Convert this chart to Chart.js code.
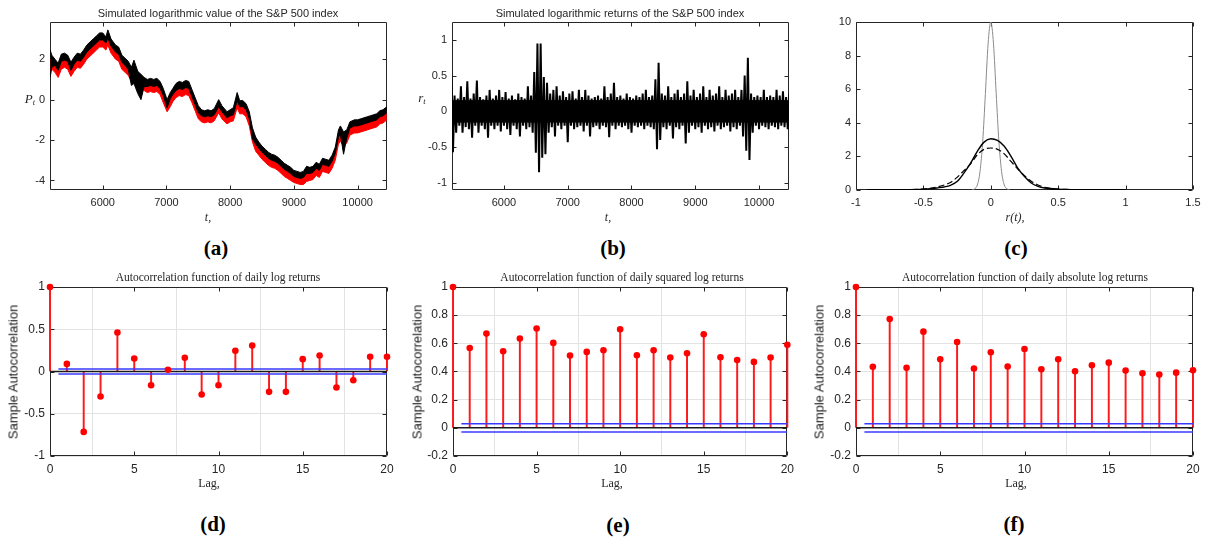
<!DOCTYPE html>
<html>
<head>
<meta charset="utf-8">
<title>S&amp;P 500 simulation</title>
<script src="https://cdn.jsdelivr.net/npm/chart.js@4.4.1/dist/chart.umd.min.js"></script>
<style>
  body { margin: 0; background: #fff; }
  #fig { position: relative; width: 1207px; height: 539px; overflow: hidden; background: #fff; }
  #fig canvas { position: absolute; }
  .t { position: absolute; transform: translate(-50%, -50%); white-space: nowrap; line-height: 1; color: #262626; }
  .sans { font-family: "Liberation Sans", Arial, sans-serif; font-size: 11px; }
  .serif { font-family: "Liberation Serif", "Times New Roman", serif; font-size: 11.5px; }
  .it { font-family: "Liberation Serif", "Times New Roman", serif; font-style: italic; font-size: 12px; }
  .lag { font-family: "Liberation Serif", "Times New Roman", serif; font-size: 12px; }
  .rot { font-family: "Liberation Sans", Arial, sans-serif; font-size: 13px; color: #1a1a1a; transform: translate(-50%, -50%) rotate(-90deg); }
  .tag { font-family: "Liberation Serif", "Times New Roman", serif; font-weight: bold; font-size: 21px; color: #000; }
  sub { font-size: 0.65em; vertical-align: -0.3em; }
</style>
</head>
<body>
<div id="fig">
  <canvas id="chartA" width="400" height="232" style="left:0;top:0"></canvas>
  <canvas id="chartB" width="400" height="232" style="left:400px;top:0"></canvas>
  <canvas id="chartC" width="407" height="232" style="left:800px;top:0"></canvas>
  <canvas id="chartD" width="400" height="238" style="left:0;top:262px"></canvas>
  <canvas id="chartE" width="400" height="238" style="left:400px;top:262px"></canvas>
  <canvas id="chartF" width="407" height="238" style="left:800px;top:262px"></canvas>

  <div class="t sans" style="left:218px;top:13px">Simulated logarithmic value of the S&amp;P 500 index</div>
  <div class="t sans" style="left:620px;top:13px">Simulated logarithmic returns of the S&amp;P 500 index</div>
  <div class="t it" style="left:30px;top:99px;font-size:13px">P<sub>t</sub></div>
  <div class="t it" style="left:422px;top:98px;font-size:13px">r<sub>t</sub></div>
  <div class="t it" style="left:208px;top:217px">t,</div>
  <div class="t it" style="left:608px;top:217px">t,</div>
  <div class="t it" style="left:1015px;top:217px">r(t),</div>
  <div class="t tag" style="left:216px;top:248px">(a)</div>
  <div class="t tag" style="left:613px;top:248px">(b)</div>
  <div class="t tag" style="left:1016px;top:248px">(c)</div>

  <div class="t serif" style="left:218px;top:278px">Autocorrelation function of daily log returns</div>
  <div class="t serif" style="left:622px;top:278px">Autocorrelation function of daily squared log returns</div>
  <div class="t serif" style="left:1025px;top:278px">Autocorrelation function of daily absolute log returns</div>
  <div class="t rot" style="left:13px;top:372px">Sample Autocorrelation</div>
  <div class="t rot" style="left:417px;top:372px">Sample Autocorrelation</div>
  <div class="t rot" style="left:819px;top:372px">Sample Autocorrelation</div>
  <div class="t lag" style="left:209px;top:483px">Lag,</div>
  <div class="t lag" style="left:612px;top:483px">Lag,</div>
  <div class="t lag" style="left:1016px;top:483px">Lag,</div>
  <div class="t tag" style="left:213px;top:524px">(d)</div>
  <div class="t tag" style="left:618px;top:525px">(e)</div>
  <div class="t tag" style="left:1014px;top:524px">(f)</div>
</div>

<script>
// --- (a) simulated log price: black band and red band (upper / lower envelopes)
const priceT = [
  5175, 5200, 5250, 5300, 5350, 5400, 5450, 5500, 5550, 5600,
  5650, 5700, 5750, 5800, 5850, 5900, 5950, 6000, 6050, 6080,
  6130, 6200, 6250, 6300, 6350, 6400, 6450, 6490, 6550, 6600,
  6650, 6700, 6750, 6800, 6850, 6900, 6950, 7010, 7060, 7100,
  7150, 7200, 7250, 7300, 7350, 7400, 7450, 7500, 7550, 7600,
  7650, 7700, 7750, 7820, 7870, 7950, 8000, 8050, 8110, 8150,
  8200, 8250, 8300, 8350, 8400, 8450, 8500, 8550, 8600, 8650,
  8700, 8750, 8800, 8850, 8900, 8950, 9000, 9050, 9100, 9150,
  9200, 9250, 9300, 9350, 9400, 9450, 9500, 9550, 9600, 9650,
  9700, 9730, 9780, 9830, 9880, 9950, 10000, 10050, 10100, 10150,
  10200, 10250, 10300, 10350, 10400, 10460
];
const blackHi = [
  2.45, 2.2, 2.0, 1.8, 2.25, 2.3, 2.2, 1.85, 2.1, 2.3,
  2.25, 2.45, 2.7, 2.85, 3.0, 3.15, 3.3, 3.3, 3.1, 3.45,
  3.0, 2.7, 2.6, 2.2, 2.05, 1.9, 1.6, 1.95, 1.4, 1.25,
  1.1, 1.0, 1.05, 1.0, 1.05, 0.9, 0.55, 0.0, 0.35, 0.55,
  0.8, 0.9, 0.85, 0.95, 0.9, 0.5, 0.1, -0.3, -0.5, -0.55,
  -0.5, -0.55, -0.45, 0.0, -0.3, -0.6, -0.5, -0.4, 0.35, -0.05,
  -0.05, -0.2, -0.6, -1.4, -1.85, -2.1, -2.3, -2.45, -2.6, -2.7,
  -2.75, -2.85, -3.0, -3.15, -3.25, -3.35, -3.5, -3.55, -3.6, -3.55,
  -3.3, -3.35, -3.3, -3.1, -3.2, -2.9, -2.95, -3.0, -2.75, -2.35,
  -1.5, -1.3, -1.6, -1.5, -1.1, -1.0, -1.0, -0.95, -0.9, -0.85,
  -0.8, -0.75, -0.7, -0.55, -0.5, -0.35
];
const blackLo = [
  1.1, 1.6, 1.7, 1.45, 1.9, 1.95, 1.9, 1.45, 1.75, 1.95,
  1.9, 2.1, 2.35, 2.5, 2.65, 2.8, 2.95, 2.95, 2.8, 3.05,
  2.65, 2.35, 2.25, 1.85, 1.7, 1.5, 0.7, 0.8, 0.3, 0.0,
  0.65, 0.65, 0.7, 0.65, 0.7, 0.55, 0.2, -0.4, 0.05, 0.25,
  0.45, 0.55, 0.5, 0.6, 0.55, 0.15, -0.25, -0.65, -0.8, -0.85,
  -0.8, -0.85, -0.75, -0.35, -0.6, -0.9, -0.8, -0.75, -0.05, -0.35,
  -0.35, -0.5, -0.95, -1.95, -2.2, -2.4, -2.6, -2.75, -2.9, -3.0,
  -3.05, -3.15, -3.3, -3.45, -3.55, -3.65, -3.8, -3.85, -3.9, -3.85,
  -3.65, -3.65, -3.6, -3.4, -3.5, -3.2, -3.25, -3.3, -3.05, -2.65,
  -1.85, -1.7, -2.7, -1.9, -1.4, -1.3, -1.3, -1.25, -1.2, -1.15,
  -1.1, -1.05, -1.0, -0.85, -0.8, -0.65
];
const redHi = [
  2.0, 1.95, 1.8, 1.55, 2.0, 2.05, 1.95, 1.6, 1.85, 2.0,
  2.0, 2.2, 2.45, 2.6, 2.75, 2.9, 3.0, 3.05, 2.85, 3.15,
  2.75, 2.45, 2.35, 1.95, 1.8, 1.65, 1.35, 1.4, 1.15, 1.0,
  0.9, 0.8, 0.8, 0.75, 0.8, 0.65, 0.3, -0.2, 0.1, 0.35,
  0.55, 0.65, 0.6, 0.7, 0.65, 0.3, -0.1, -0.5, -0.7, -0.75,
  -0.7, -0.75, -0.65, -0.25, -0.5, -0.8, -0.7, -0.6, 0.05, -0.25,
  -0.25, -0.45, -0.85, -1.7, -2.1, -2.35, -2.55, -2.7, -2.85, -2.95,
  -3.0, -3.1, -3.25, -3.4, -3.5, -3.6, -3.75, -3.8, -3.85, -3.8,
  -3.6, -3.6, -3.55, -3.35, -3.45, -3.15, -3.2, -3.25, -3.0, -2.6,
  -1.75, -1.55, -1.85, -1.75, -1.35, -1.25, -1.25, -1.2, -1.15, -1.1,
  -1.05, -1.0, -0.95, -0.8, -0.75, -0.6
];
const redLo = [
  1.45, 1.5, 1.35, 1.1, 1.5, 1.6, 1.5, 1.15, 1.4, 1.6,
  1.55, 1.75, 2.0, 2.15, 2.3, 2.45, 2.6, 2.6, 2.45, 2.7,
  2.3, 2.0, 1.9, 1.5, 1.35, 1.2, 0.9, 0.95, 0.7, 0.6,
  0.45, 0.35, 0.4, 0.35, 0.4, 0.25, -0.15, -0.6, -0.35, -0.1,
  0.1, 0.2, 0.15, 0.25, 0.2, -0.15, -0.55, -0.95, -1.1, -1.15,
  -1.1, -1.15, -1.05, -0.65, -0.95, -1.2, -1.1, -1.05, -0.4, -0.7,
  -0.7, -0.85, -1.3, -2.1, -2.55, -2.75, -2.95, -3.1, -3.25, -3.35,
  -3.4, -3.5, -3.65, -3.8, -3.9, -4.0, -4.1, -4.15, -4.2, -4.2,
  -4.05, -4.0, -3.95, -3.75, -3.85, -3.55, -3.6, -3.65, -3.4, -3.0,
  -2.2, -2.05, -2.3, -2.15, -1.75, -1.65, -1.65, -1.6, -1.55, -1.5,
  -1.45, -1.4, -1.35, -1.2, -1.15, -1.0
];

// --- (b) simulated log returns: per-sample high / low of the series
const retT = [
  5175, 5225, 5275, 5325, 5375, 5425, 5475, 5525, 5575, 5625,
  5675, 5725, 5775, 5825, 5875, 5925, 5975, 6025, 6075, 6125,
  6175, 6225, 6275, 6325, 6375, 6425, 6475, 6525, 6575, 6625,
  6675, 6725, 6775, 6825, 6875, 6925, 6975, 7025, 7075, 7125,
  7175, 7225, 7275, 7325, 7375, 7425, 7475, 7525, 7575, 7625,
  7675, 7725, 7775, 7825, 7875, 7925, 7975, 8025, 8075, 8125,
  8175, 8225, 8275, 8325, 8375, 8425, 8475, 8525, 8575, 8625,
  8675, 8725, 8775, 8825, 8875, 8925, 8975, 9025, 9075, 9125,
  9175, 9225, 9275, 9325, 9375, 9425, 9475, 9525, 9575, 9625,
  9675, 9725, 9775, 9825, 9875, 9925, 9975, 10025, 10075, 10125,
  10175, 10225, 10275, 10325, 10375, 10425, 10475
];
const retHi = [
  0.50, 0.22, 0.18, 0.35, 0.20, 0.42, 0.18, 0.25, 0.43, 0.20,
  0.17, 0.22, 0.30, 0.18, 0.22, 0.30, 0.20, 0.27, 0.18, 0.22,
  0.17, 0.25, 0.20, 0.18, 0.35, 0.22, 0.55, 0.95, 0.95, 0.48,
  0.40, 0.25, 0.30, 0.35, 0.22, 0.28, 0.20, 0.25, 0.28, 0.18,
  0.30, 0.20, 0.30, 0.22, 0.18, 0.20, 0.22, 0.18, 0.35, 0.20,
  0.25, 0.40, 0.20, 0.22, 0.18, 0.25, 0.20, 0.18, 0.22, 0.20,
  0.25, 0.30, 0.20, 0.22, 0.45, 0.68, 0.25, 0.22, 0.35, 0.20,
  0.25, 0.30, 0.20, 0.25, 0.42, 0.22, 0.30, 0.20, 0.25, 0.35,
  0.20, 0.30, 0.22, 0.25, 0.35, 0.20, 0.30, 0.22, 0.25, 0.30,
  0.20, 0.30, 0.50, 0.75, 0.25, 0.20, 0.22, 0.20, 0.30, 0.20,
  0.22, 0.20, 0.30, 0.22, 0.28, 0.20, 0.25
];
const retLo = [
  -0.57, -0.30, -0.20, -0.30, -0.22, -0.25, -0.37, -0.20, -0.30, -0.20,
  -0.25, -0.37, -0.20, -0.25, -0.20, -0.28, -0.20, -0.25, -0.33, -0.20,
  -0.25, -0.35, -0.20, -0.25, -0.22, -0.30, -0.58, -0.85, -0.65, -0.60,
  -0.30, -0.22, -0.35, -0.20, -0.25, -0.20, -0.43, -0.20, -0.25, -0.22,
  -0.20, -0.28, -0.20, -0.35, -0.22, -0.20, -0.25, -0.20, -0.22, -0.36,
  -0.20, -0.25, -0.20, -0.22, -0.20, -0.25, -0.30, -0.20, -0.22, -0.20,
  -0.25, -0.20, -0.22, -0.25, -0.53, -0.40, -0.22, -0.25, -0.20, -0.38,
  -0.22, -0.25, -0.20, -0.45, -0.30, -0.20, -0.25, -0.22, -0.30, -0.20,
  -0.25, -0.22, -0.28, -0.20, -0.25, -0.22, -0.20, -0.28, -0.22, -0.25,
  -0.20, -0.35, -0.55, -0.68, -0.30, -0.20, -0.25, -0.20, -0.22, -0.25,
  -0.20, -0.22, -0.25, -0.20, -0.22, -0.25, -0.20
];
// solid core of the returns trace, where the samples overlap completely
const retCoreHi = 0.15;
const retCoreLo = -0.15;

// --- (c) densities of r(t)
const narrowX = [-0.14, -0.12, -0.1, -0.08, -0.06, -0.04, -0.02, 0, 0.02, 0.04, 0.06, 0.08, 0.1, 0.12, 0.14];
const narrowY = [0, 0.07, 0.3, 1.1, 2.9, 5.75, 8.7, 10, 8.7, 5.75, 2.9, 1.1, 0.3, 0.07, 0];
const densX = [-0.92, -0.7, -0.5, -0.4, -0.3, -0.25, -0.2, -0.15, -0.1, -0.05, 0, 0.05, 0.1, 0.15, 0.2, 0.25, 0.3, 0.35, 0.4, 0.5, 0.7, 1.0];
const kernelY = [0.01, 0.02, 0.05, 0.12, 0.28, 0.5, 1.0, 1.6, 2.3, 2.85, 3.05, 2.95, 2.6, 2.0, 1.3, 0.8, 0.42, 0.22, 0.12, 0.05, 0.02, 0.01];
const fittedY = [0, 0.02, 0.06, 0.18, 0.45, 0.75, 1.15, 1.55, 2.1, 2.42, 2.5, 2.42, 2.15, 1.7, 1.25, 0.85, 0.52, 0.3, 0.16, 0.06, 0.02, 0.01];

// --- (d)-(f) sample autocorrelations, lags 0..20
const lags = [0, 1, 2, 3, 4, 5, 6, 7, 8, 9, 10, 11, 12, 13, 14, 15, 16, 17, 18, 19, 20];
const acfReturns = [1, 0.09, -0.715, -0.296, 0.462, 0.154, -0.162, 0.02, 0.162, -0.273, -0.162,
  0.245, 0.308, -0.241, -0.241, 0.146, 0.19, -0.19, -0.103, 0.174, 0.174];
const acfSquared = [1, 0.567, 0.669, 0.544, 0.634, 0.705, 0.603, 0.513, 0.539, 0.551, 0.7,
  0.515, 0.551, 0.499, 0.53, 0.664, 0.501, 0.482, 0.468, 0.499, 0.59];
const acfAbsolute = [1, 0.433, 0.773, 0.426, 0.683, 0.487, 0.61, 0.421, 0.537, 0.435, 0.56,
  0.416, 0.487, 0.402, 0.444, 0.463, 0.407, 0.388, 0.378, 0.392, 0.409];
const confBound = 0.029;

// tick values
const timeTicks = [6000, 7000, 8000, 9000, 10000];
const priceTicks = [-4, -2, 0, 2];
const retTicks = [-1, -0.5, 0, 0.5, 1];
const densXTicks = [-1, -0.5, 0, 0.5, 1, 1.5];
const densYTicks = [0, 2, 4, 6, 8, 10];
const lagTicks = [0, 5, 10, 15, 20];
const acfTicksD = [-1, -0.5, 0, 0.5, 1];
const acfTicksEF = [-0.2, 0, 0.2, 0.4, 0.6, 0.8, 1];

Chart.defaults.animation = false;
Chart.defaults.events = [];
Chart.defaults.plugins.legend.display = false;
Chart.defaults.plugins.tooltip.enabled = false;

const X_AXIS_H = 24;
const AXIS_COLOR = '#262626';

// box around the plot area with inward tick marks on all four sides
const framePlugin = {
  id: 'frame',
  beforeDatasetsDraw(chart) {
    const { ctx, chartArea: a, scales: { x, y } } = chart;
    const L = Math.round(a.left) + 0.5, R = Math.round(a.right) - 0.5;
    const T = Math.round(a.top) + 0.5, B = Math.round(a.bottom) - 0.5;
    const len = 4;
    ctx.save();
    ctx.strokeStyle = AXIS_COLOR;
    ctx.lineWidth = 1;
    ctx.beginPath();
    ctx.rect(L, T, R - L, B - T);
    x.ticks.forEach(t => {
      const px = Math.round(x.getPixelForValue(t.value)) + 0.5;
      ctx.moveTo(px, B); ctx.lineTo(px, B - len);
      ctx.moveTo(px, T); ctx.lineTo(px, T + len);
    });
    y.ticks.forEach(t => {
      const py = Math.round(y.getPixelForValue(t.value)) + 0.5;
      ctx.moveTo(L, py); ctx.lineTo(L + len, py);
      ctx.moveTo(R, py); ctx.lineTo(R - len, py);
    });
    ctx.stroke();
    ctx.restore();
  }
};
Chart.register(framePlugin);

const pts = (xs, ys) => xs.map((x, i) => ({ x, y: ys[i] }));

// one trace swinging from each sample's high to its low, like a dense series
function zigzag(xs, his, los, halfStep) {
  const out = [];
  xs.forEach((x, i) => {
    out.push({ x, y: his[i] });
    out.push({ x: x + halfStep, y: los[i] });
  });
  return out;
}

function layoutFor(cell, area) {
  return {
    padding: {
      left: 0,
      top: area.t - cell.y,
      right: cell.x + cell.w - area.r,
      bottom: cell.y + cell.h - area.b - X_AXIS_H
    }
  };
}

function scalesFor(cell, area, xr, yr, xTicks, yTicks, withGrid, fontSize) {
  const font = { family: '"Liberation Sans", Arial, sans-serif', size: fontSize };
  const grid = { display: withGrid, color: '#e3e3e3', drawTicks: false };
  return {
    x: {
      type: 'linear', min: xr[0], max: xr[1], offset: false,
      grid: grid, border: { display: false },
      afterBuildTicks: s => { s.ticks = xTicks.map(v => ({ value: v })); },
      afterFit: s => { s.height = X_AXIS_H; },
      ticks: { font, color: AXIS_COLOR, padding: 6, autoSkip: false, maxRotation: 0, callback: v => String(v) }
    },
    y: {
      type: 'linear', min: yr[0], max: yr[1],
      grid: grid, border: { display: false },
      afterBuildTicks: s => { s.ticks = yTicks.map(v => ({ value: v })); },
      afterFit: s => { s.width = area.l - cell.x; },
      ticks: { font, color: AXIS_COLOR, padding: 5, autoSkip: false, callback: v => String(v) }
    }
  };
}

function band(xs, ys, color, fill) {
  return { data: pts(xs, ys), borderColor: color, backgroundColor: color, borderWidth: 1, pointRadius: 0, fill };
}

// (a) log value
const cellA = { x: 0, y: 0, w: 400, h: 232 }, areaA = { l: 50, t: 22, r: 387, b: 190 };
new Chart(document.getElementById('chartA'), {
  type: 'line',
  data: { datasets: [
    band(priceT, blackHi, '#000000', '+1'),
    band(priceT, blackLo, '#000000', false),
    band(priceT, redHi, '#ff0000', '+1'),
    band(priceT, redLo, '#ff0000', false)
  ] },
  options: {
    responsive: false,
    layout: layoutFor(cellA, areaA),
    scales: scalesFor(cellA, areaA, [5172, 10462], [-4.47, 3.84], timeTicks, priceTicks, false, 11)
  }
});

// (b) log returns
const cellB = { x: 400, y: 0, w: 400, h: 232 }, areaB = { l: 452, t: 22, r: 789, b: 190 };
const coreEnds = [retT[0], retT[retT.length - 1]];
new Chart(document.getElementById('chartB'), {
  type: 'line',
  data: { datasets: [
    { data: zigzag(retT, retHi, retLo, 25), borderColor: '#000', borderWidth: 2, pointRadius: 0, fill: false },
    band(coreEnds, [retCoreHi, retCoreHi], '#000000', '+1'),
    band(coreEnds, [retCoreLo, retCoreLo], '#000000', false)
  ] },
  options: {
    responsive: false,
    layout: layoutFor(cellB, areaB),
    scales: scalesFor(cellB, areaB, [5185, 10470], [-1.1, 1.25], timeTicks, retTicks, false, 11)
  }
});

// (c) densities
const cellC = { x: 800, y: 0, w: 407, h: 232 }, areaC = { l: 856, t: 22, r: 1193, b: 190 };
new Chart(document.getElementById('chartC'), {
  type: 'line',
  data: { datasets: [
    { data: pts(densX, kernelY), borderColor: '#000', borderWidth: 1.4, pointRadius: 0, cubicInterpolationMode: 'monotone' },
    { data: pts(densX, fittedY), borderColor: '#000', borderWidth: 1.2, borderDash: [6, 3], pointRadius: 0, cubicInterpolationMode: 'monotone' },
    { data: pts(narrowX, narrowY), borderColor: '#8a8a8a', borderWidth: 1, pointRadius: 0, cubicInterpolationMode: 'monotone' }
  ] },
  options: {
    responsive: false,
    layout: layoutFor(cellC, areaC),
    scales: scalesFor(cellC, areaC, [-1, 1.5], [0, 10], densXTicks, densYTicks, false, 11)
  }
});

// (d)-(f) stem plots of the autocorrelations with confidence bounds
function acfChart(id, values, cell, area, yr, yTicks) {
  const stems = pts(lags, values);
  new Chart(document.getElementById(id), {
    type: 'scatter',
    data: { datasets: [
      { type: 'scatter', data: stems, pointRadius: 3.3, backgroundColor: '#ff0000', borderWidth: 0, clip: false },
      { type: 'line', data: [{ x: 0, y: 0 }, { x: 20, y: 0 }], borderColor: '#1a1a1a', borderWidth: 1.5, pointRadius: 0 },
      { type: 'line', data: [{ x: 0.5, y: confBound }, { x: 20, y: confBound }], borderColor: '#3a3aff', borderWidth: 1.5, pointRadius: 0 },
      { type: 'line', data: [{ x: 0.5, y: -confBound }, { x: 20, y: -confBound }], borderColor: '#3a3aff', borderWidth: 1.5, pointRadius: 0 },
      { type: 'bar', data: stems, backgroundColor: '#ff1a1a', barThickness: 1.3, clip: false }
    ] },
    options: {
      responsive: false,
      layout: layoutFor(cell, area),
      scales: scalesFor(cell, area, [0, 20], yr, lagTicks, yTicks, true, 12)
    }
  });
}

acfChart('chartD', acfReturns, { x: 0, y: 262, w: 400, h: 238 }, { l: 50, t: 287, r: 387, b: 456 }, [-1, 1], acfTicksD);
acfChart('chartE', acfSquared, { x: 400, y: 262, w: 400, h: 238 }, { l: 453, t: 287, r: 789, b: 456 }, [-0.2, 1], acfTicksEF);
acfChart('chartF', acfAbsolute, { x: 800, y: 262, w: 407, h: 238 }, { l: 856, t: 287, r: 1193, b: 456 }, [-0.2, 1], acfTicksEF);
</script>
</body>
</html>
